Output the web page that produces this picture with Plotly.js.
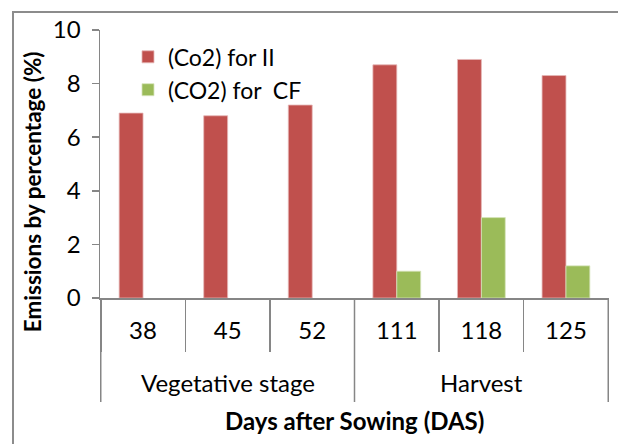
<!DOCTYPE html>
<html>
<head>
<meta charset="utf-8">
<script src="https://cdn.plot.ly/plotly-3.0.1.min.js"></script>
<style>
  html, body { margin: 0; padding: 0; background: #fff; }
  #frame { position: absolute; left: 12px; top: 11px; width: 606px; height: 433px;
           border-left: 2px solid #8c8c8c; border-top: 2px solid #8c8c8c; box-sizing: border-box; }
  #chart { position: absolute; left: 0; top: 0; width: 604px; height: 431px; }
</style>
</head>
<body>
<div id="frame"><div id="chart"></div></div>
<script>
const stages = ["Vegetative stage", "Vegetative stage", "Vegetative stage", "Harvest", "Harvest", "Harvest"];
const days = ["38", "45", "52", "111", "118", "125"];
const co2II = [6.9, 6.8, 7.2, 8.7, 8.9, 8.3];
const co2CF = [null, null, null, 1.0, 3.0, 1.2];
const seriesNames = ["(Co2) for II", "(CO2) for  CF"];
const yTicks = [0, 2, 4, 6, 8, 10];

const FONT = "Lato, 'Open Sans', sans-serif";
const AXC = "#868686";

const traces = [
  { type: "bar", name: seriesNames[0], x: days, y: co2II,
    marker: { color: "#C0504D", line: { color: "#e6b8b7", width: 0.8 } } },
  { type: "bar", name: seriesNames[1], x: days, y: co2CF,
    marker: { color: "#9BBB59", line: { color: "#d7e4bd", width: 0.8 } } }
];

// group spans (category index ranges) derived from the stages array
const groups = [];
stages.forEach((s, i) => {
  if (!groups.length || groups[groups.length - 1].name !== s) groups.push({ name: s, start: i, end: i });
  else groups[groups.length - 1].end = i;
});

const shapes = [];
const annotations = [];
const GROUP_LINE_BOTTOM = -0.388;
groups.forEach((g, k) => {
  if (k === 0) shapes.push({ type: "line", xref: "x", yref: "paper", x0: g.start - 0.5, x1: g.start - 0.5,
    y0: 0, y1: GROUP_LINE_BOTTOM, line: { color: AXC, width: 1.5 } });
  shapes.push({ type: "line", xref: "x", yref: "paper", x0: g.end + 0.5, x1: g.end + 0.5,
    y0: 0, y1: GROUP_LINE_BOTTOM, line: { color: AXC, width: 1.5 } });
  annotations.push({ text: g.name, showarrow: false, xref: "x", yref: "paper",
    x: (g.start + g.end) / 2, y: -0.317, xanchor: "center", yanchor: "middle",
    font: { family: FONT, size: 24 } });
});
annotations.push({ text: "<b>Days after Sowing (DAS)</b>", showarrow: false, xref: "paper", yref: "paper",
  x: 0.5, y: -0.456, xanchor: "center", yanchor: "middle", font: { family: FONT, size: 24 } });
annotations.push({ text: "<b>Emissions by percentage (%)</b>", textangle: -90, showarrow: false,
  xref: "paper", yref: "paper", x: -0.131, y: 0.396, xanchor: "center", yanchor: "middle",
  font: { family: FONT, size: 22.5 } });

const layout = {
  width: 604, height: 431,
  margin: { l: 86, r: 9, t: 17, b: 146 },
  paper_bgcolor: "#fff", plot_bgcolor: "#fff",
  font: { family: FONT, color: "#000", size: 24 },
  barmode: "group", bargap: 0.435, bargroupgap: 0,
  showlegend: true,
  legend: { x: 0.055, y: 0.98, xanchor: "left", yanchor: "top",
            bgcolor: "rgba(0,0,0,0)", font: { family: FONT, size: 23 },
            tracegroupgap: 0 },
  xaxis: {
    type: "category",
    showline: true, linecolor: AXC, linewidth: 1.5,
    ticks: "outside", tickson: "boundaries", ticklen: 52, tickcolor: AXC, tickwidth: 1.5,
    ticklabelstandoff: 11,
    tickfont: { family: FONT, size: 24 },
    showgrid: false, zeroline: false, automargin: false
  },
  yaxis: {
    range: [0, 10], tickvals: yTicks, ticktext: yTicks.map(String),
    showline: true, linecolor: AXC, linewidth: 1.5,
    ticks: "outside", ticklen: 7, tickcolor: AXC, tickwidth: 1.5,
    ticklabelstandoff: 6,
    tickfont: { family: FONT, size: 24 }, showgrid: false, zeroline: false, automargin: false
  },
  shapes: shapes,
  annotations: annotations
};

Plotly.newPlot("chart", traces, layout, { displayModeBar: false, staticPlot: true });
</script>
</body>
</html>
